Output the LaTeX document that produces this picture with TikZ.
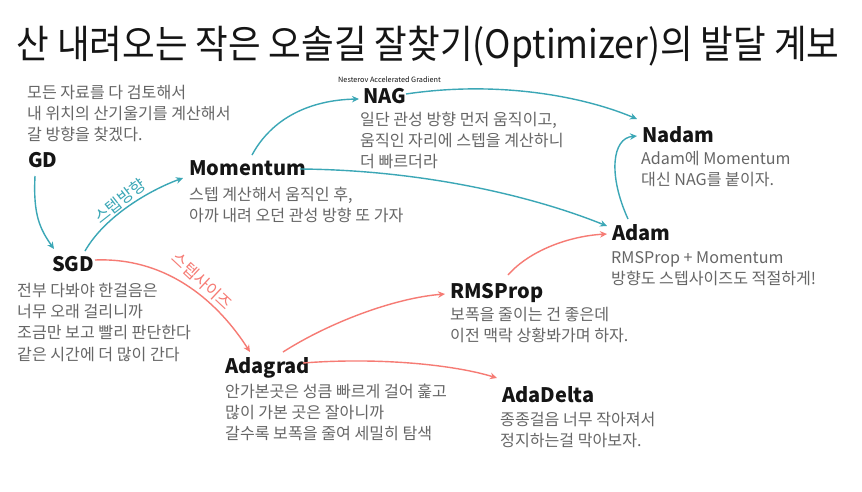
\documentclass[tikz,border=0pt]{standalone}
\usepackage{fontspec}
\setmainfont{Noto Sans CJK KR}
\usetikzlibrary{arrows.meta,calc}
\definecolor{teal1}{HTML}{3BA7B6}
\definecolor{coral1}{HTML}{F67B74}
\definecolor{desc}{HTML}{666666}
\definecolor{ink}{HTML}{151515}
\tikzset{
  lbl/.style={anchor=base west, inner sep=0pt, font=\fontsize{20}{24}\selectfont\bfseries, text=ink},
  dsc/.style={anchor=base west, inner sep=0pt, font=\fontsize{16.1}{21.4}\selectfont, text=desc},
  tarr/.style={draw=teal1, line width=1.4pt, -{Stealth[length=7pt,width=6.5pt]}},
  carr/.style={draw=coral1, line width=1.4pt, -{Stealth[length=7pt,width=6.5pt]}},
  elbl/.style={inner sep=0pt, font=\fontsize{16.3}{18}\selectfont}
}
\newcommand{\dlines}[1]{\begin{tabular}[t]{@{}l@{}}#1\end{tabular}}
\begin{document}
\begin{tikzpicture}[x=1pt,y=-1pt]
\useasboundingbox (0,0) rectangle (862,491);
\fill[white] (0,0) rectangle (862,491);
% title
\node[anchor=base, inner sep=0pt, font=\fontsize{35.5}{40}\selectfont, text=ink] (title) at (428,58) {\scalebox{1}[1.1]{산 내려오는 작은 오솔길 잘찾기(Optimizer)의 발달 계보}};
% labels
\node[lbl] (gd) at (28,167) {GD};
\node[lbl] (sgd) at (52,271) {SGD};
\node[lbl] (mom) at (189,175) {Momentum};
\node[lbl] (nag) at (363,103) {NAG};
\node[anchor=base west, inner sep=0pt, font=\fontsize{7.3}{9}\selectfont, text=ink] (nest) at (338,82) {Nesterov Accelerated Gradient};
\node[lbl] (nadam) at (642,142) {Nadam};
\node[lbl] (adam) at (612,240) {Adam};
\node[lbl] (rms) at (450,298) {RMSProp};
\node[lbl] (adagrad) at (225,373) {Adagrad};
\node[lbl] (adadelta) at (502,402) {AdaDelta};
% descriptions
\node[dsc] (gdd) at (27,98) {\dlines{모든 자료를 다 검토해서\\내 위치의 산기울기를 계산해서\\갈 방향을 찾겠다.}};
\node[dsc] (sgdd) at (17,296) {\dlines{전부 다봐야 한걸음은\\너무 오래 걸리니까\\조금만 보고 빨리 판단한다\\같은 시간에 더 많이 간다}};
\node[dsc] (momd) at (189,200) {\dlines{스텝 계산해서 움직인 후,\\아까 내려 오던 관성 방향 또 가자}};
\node[dsc] (nagd) at (360,125) {\dlines{일단 관성 방향 먼저 움직이고,\\움직인 자리에 스텝을 계산하니\\더 빠르더라}};
\node[dsc] (nadamd) at (641,164) {\dlines{Adam에 Momentum\\대신 NAG를 붙이자.}};
\node[dsc] (adamd) at (611,263) {\dlines{RMSProp + Momentum\\방향도 스텝사이즈도 적절하게!}};
\node[dsc] (rmsd) at (450,320) {\dlines{보폭을 줄이는 건 좋은데\\이전 맥락 상황봐가며 하자.}};
\node[dsc] (adagradd) at (225,397) {\dlines{안가본곳은 성큼 빠르게 걸어 훑고\\많이 가본 곳은 잘아니까\\갈수록 보폭을 줄여 세밀히 탐색}};
\node[dsc] (adadeltad) at (500,425) {\dlines{종종걸음 너무 작아져서\\정지하는걸 막아보자.}};
% edge labels
\node[elbl, text=teal1, rotate=38] (ldir) at (120,201) {스텝방향};
\node[elbl, text=coral1, rotate=-43] (lsize) at (202,281) {스텝사이즈};
% teal connectors
\draw[tarr] ($(gd.base west)+(7,9)$) .. controls +(-2,39) and +(-14,-20) .. ($(sgd.base west)+(2,-22)$);
\draw[tarr] ($(sgd.base west)+(33,-20)$) .. controls +(20,-35) and +(-33,12) .. ($(mom.base west)+(-6,3)$);
\draw[tarr] ($(mom.base west)+(63,-20)$) .. controls +(20,-37) and +(-49,1) .. ($(nag.base west)+(-4,-4)$);
\draw[tarr] ($(nag.base west)+(43,-9)$) .. controls +(94,-14) and +(-52,-22) .. ($(nadam.base west)+(-5,-23)$);
\draw[tarr] ($(mom.base west)+(111,-6)$) .. controls +(120,1) and +(-77,-31) .. ($(adam.base west)+(-5,-14)$);
\draw[tarr] ($(adam.base west)+(16,-21)$) .. controls +(-20,-44) and +(-25,2) .. ($(nadam.base west)+(-5,-6)$);
% coral connectors
\draw[carr] ($(sgd.base west)+(43,-11)$) .. controls +(75,-3) and +(-30,-47) .. ($(adagrad.base west)+(25,-21)$);
\draw[carr] ($(adagrad.base west)+(58,-21)$) .. controls +(47,-30) and +(-50,4) .. ($(rms.base west)+(-5,-4)$);
\draw[carr] ($(adagrad.base west)+(78,-10)$) .. controls +(77,-6) and +(-42,-13) .. ($(adadelta.base west)+(-5,-24)$);
\draw[carr] ($(rms.base west)+(58,-23)$) .. controls +(22,-25) and +(-37,2) .. ($(adam.base west)+(-5,-6)$);
\end{tikzpicture}
\end{document}
